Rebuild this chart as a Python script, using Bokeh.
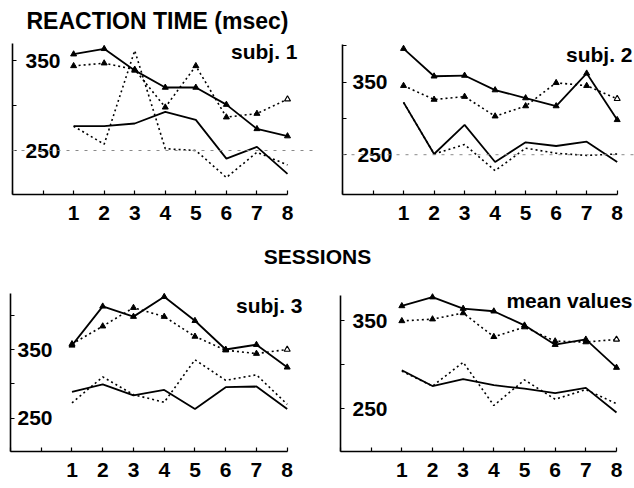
from bokeh.plotting import figure
from bokeh.layouts import column, row
from bokeh.models import Range1d, FixedTicker, Span
from bokeh.core.properties import value
from bokeh.embed import file_html
from bokeh.resources import INLINE

# ---------------- data ----------------
sessions = [1, 2, 3, 4, 5, 6, 7, 8]
x_tick_labels = ["1", "2", "3", "4", "5", "6", "7", "8"]
y_tick_labels = ["350", "250"]
y_label_values = [350, 250]

subj1_solid_hi = [357, 363, 339, 320, 320, 301, 274, 266]
subj1_dotted_hi = [344, 347, 340, 298, 344, 287, 291, 307]
subj1_solid_lo = [277, 277, 280, 293, 284, 241, 254, 224]
subj1_dotted_lo = [277, 257, 361, 252, 250, 220, 248, 234]

subj2_solid_hi = [396, 358, 359, 339, 328, 317, 362, 298]
subj2_dotted_hi = [345, 326, 330, 303, 317, 349, 345, 327]
subj2_solid_lo = [322, 251, 291, 240, 267, 262, 268, 240]
subj2_dotted_lo = [322, 251, 264, 228, 259, 252, 249, 251]

subj3_solid_hi = [356, 413, 398, 427, 392, 350, 357, 324]
subj3_dotted_hi = [358, 384, 411, 398, 369, 349, 344, 350]
subj3_solid_lo = [288, 299, 283, 291, 263, 295, 296, 263]
subj3_dotted_lo = [272, 310, 284, 273, 335, 305, 313, 270]

mean_solid_hi = [367, 377, 364, 361, 345, 323, 329, 297]
mean_dotted_hi = [350, 352, 359, 332, 343, 327, 326, 329]
mean_solid_lo = [294, 276, 284, 277, 273, 268, 274, 246]
mean_dotted_lo = [293, 276, 303, 254, 283, 261, 272, 256]

FONT = "Liberation Sans"


def panel(fig_left, fig_top, fig_w, fig_h, X0, x8, Yb, y350, y250, axis_top,
          yticks, series, label_dx, name, name_right, name_mid, ref_line,
          standoff, title=None):
    sx = (x8 - X0) / 9.0
    sy = (y250 - y350) / 100.0
    vb = 250 - (Yb - y250) / sy
    right = fig_left + fig_w
    x_end = -1 + (right - X0) / sx
    y_top = vb + (Yb - fig_top) / sy

    def to_x(px):
        return -1 + (px - X0) / sx

    def to_y(py):
        return vb + (Yb - py) / sy

    p = figure(width=fig_w, height=fig_h,
               x_range=Range1d(-1, x_end), y_range=Range1d(vb, y_top),
               output_backend="svg", toolbar_location=None,
               min_border_left=int(round(X0 - fig_left)), min_border_right=0,
               min_border_top=0,
               min_border_bottom=int(round(fig_top + fig_h - Yb)))
    p.grid.visible = False
    p.outline_line_color = None
    p.background_fill_color = "white"

    xa = p.xaxis[0]
    xa.ticker = FixedTicker(ticks=sessions, minor_ticks=[-1, 0])
    xa.major_label_overrides = {s: t for s, t in zip(sessions, x_tick_labels)}
    xa.bounds = (-1, 8)
    xa.major_tick_in = 4
    xa.major_tick_out = 0
    xa.minor_tick_in = 4
    xa.minor_tick_out = 0
    xa.axis_line_width = 1.6
    xa.major_tick_line_width = 1.2
    xa.minor_tick_line_width = 1.2
    xa.major_label_text_font = FONT
    xa.major_label_text_font_style = "bold"
    xa.major_label_text_font_size = "21px"
    xa.major_label_text_color = "black"
    xa.major_label_standoff = standoff

    ya = p.yaxis[0]
    ya.ticker = FixedTicker(ticks=[], minor_ticks=yticks)
    ya.bounds = (vb, to_y(axis_top))
    ya.major_tick_in = 0
    ya.major_tick_out = 0
    ya.minor_tick_in = 4
    ya.minor_tick_out = 0
    ya.minor_tick_line_width = 1.2
    ya.axis_line_width = 1.6
    ya.major_label_standoff = 0

    if ref_line:
        p.add_layout(Span(location=250, dimension="width", line_color="#888888",
                          line_width=1, line_dash="3 6"))

    solid_hi, dotted_hi, solid_lo, dotted_lo = series
    p.line(sessions, solid_lo, line_color="black", line_width=1.8)
    p.line(sessions, dotted_lo, line_color="black", line_width=1.6,
           line_dash="2 3")
    p.line(sessions, dotted_hi, line_color="black", line_width=1.6,
           line_dash="2 3")
    p.line(sessions, solid_hi, line_color="black", line_width=1.8)
    p.scatter(sessions, solid_hi, marker="triangle", size=6,
              fill_color="black", line_color="black")
    p.scatter(sessions[:-1], dotted_hi[:-1], marker="triangle", size=6,
              fill_color="black", line_color="black")
    p.scatter(sessions[-1:], dotted_hi[-1:], marker="triangle", size=6,
              fill_color="white", line_color="black", line_width=1.2)

    p.text(x=[-1, -1], y=y_label_values, text=y_tick_labels,
           x_offset=label_dx, text_baseline="middle", text_align="left",
           text_font=value(FONT), text_font_style="bold",
           text_font_size="21px", text_color="black")

    p.text(x=[to_x(name_right)], y=[to_y(name_mid)], text=[name],
           text_align="right", text_baseline="middle",
           text_font=value(FONT), text_font_style="bold",
           text_font_size="21px", text_color="black")

    if title is not None:
        p.text(x=[to_x(26)], y=[to_y(20.5)], text=[title],
               text_align="left", text_baseline="middle",
               text_font=value(FONT), text_font_style="bold",
               text_font_size="23px", text_color="black")
    return p


p1 = panel(0, 0, 317, 240, 12, 287, 194, 60, 150, 43, [250, 300, 350],
           (subj1_solid_hi, subj1_dotted_hi, subj1_solid_lo, subj1_dotted_lo),
           [13, 13], "subj. 1", 297, 51, True, 11,
           title="REACTION TIME (msec)")
p2 = panel(317, 0, 317, 240, 342, 616.7, 195, 82, 155, 44, [250, 300, 350, 400],
           (subj2_solid_hi, subj2_dotted_hi, subj2_solid_lo, subj2_dotted_lo),
           [10, 15], "subj. 2", 632, 54, True, 11)

p_mid = figure(width=634, height=28, x_range=Range1d(0, 634),
               y_range=Range1d(0, 28), output_backend="svg",
               toolbar_location=None, x_axis_type=None, y_axis_type=None,
               min_border=0)
p_mid.grid.visible = False
p_mid.outline_line_color = None
p_mid.text(x=[317], y=[12], text=["SESSIONS"], text_align="center",
           text_baseline="middle", text_font=value(FONT),
           text_font_style="bold", text_font_size="21px", text_color="black")

p3 = panel(0, 268, 317, 220, 10, 286.7, 451, 349, 417.5, 293,
           [250, 300, 350, 400],
           (subj3_solid_hi, subj3_dotted_hi, subj3_solid_lo, subj3_dotted_lo),
           [7, 7], "subj. 3", 302, 305, False, 11)
p4 = panel(317, 268, 317, 220, 340, 616, 453, 321, 410, 295, [250, 300, 350],
           (mean_solid_hi, mean_dotted_hi, mean_solid_lo, mean_dotted_lo),
           [12, 12], "mean values", 632, 300, False, 11)

layout = column(row(p1, p2), p_mid, row(p3, p4))

open("out.html", "w").write(file_html(layout, INLINE))
